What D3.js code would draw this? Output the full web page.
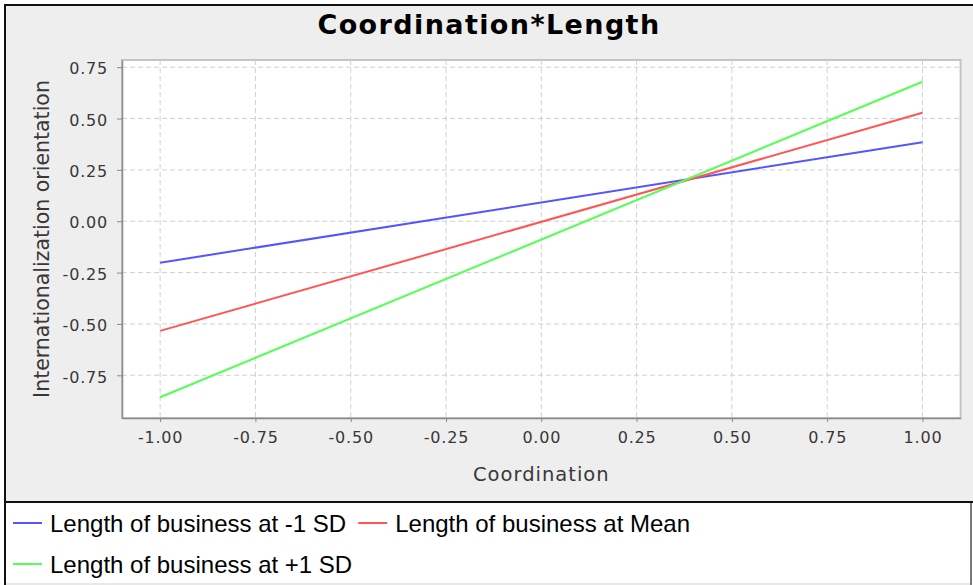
<!DOCTYPE html>
<html>
<head>
<meta charset="utf-8">
<script src="https://cdn.jsdelivr.net/npm/d3@7"></script>
<style>
    body { margin: 0; background: #ffffff; }
    text { font-family: "DejaVu Sans", sans-serif; }
</style>
</head>
<body>
<div class="svg-container"></div>
<script>

/*** The data ***/

const xValues = [-1, 1]
const seriesNames = ['Length of business at -1 SD', 'Length of business at Mean', 'Length of business at +1 SD']
const lowSD = [-0.202, 0.385]
const meanSD = [-0.534, 0.528]
const highSD = [-0.857, 0.679]
const seriesColors = ['#5555ff', '#ff5555', '#55ff55']

const xTicks = [-1, -0.75, -0.5, -0.25, 0, 0.25, 0.5, 0.75, 1]
const yTicks = [-0.75, -0.5, -0.25, 0, 0.25, 0.5, 0.75]

const series = [lowSD, meanSD, highSD].map((vals, i) => ({
    name: seriesNames[i],
    color: seriesColors[i],
    points: vals.map((v, j) => ({x: xValues[j], y: v}))
}))

const svgWidth = 973
const svgHeight = 585

const plotLeft = 122
const plotRight = 960.6
const plotTop = 60
const plotBottom = 418

const legendTop = 502

// plain hyphen for negatives, like the original
const fmt = (d) => d3.format(".2f")(d).replace("−", "-")

let svg = d3.select('.svg-container')
    .append("svg")
    .attr("width", svgWidth)
    .attr("height", svgHeight)

/* chart panel background */

svg.append("rect")
    .attr("x", 5)
    .attr("y", 5)
    .attr("width", svgWidth - 5)
    .attr("height", legendTop - 5)
    .attr("fill", "#eeeeee")

/* Scales */

let xScale = d3.scaleLinear()
    .domain([-1.1, 1.1])
    .range([plotLeft, plotRight])

let yScale = d3.scaleLinear()
    .domain([-0.958, 0.785])
    .range([plotBottom, plotTop])

/* plot area */

svg.append("rect")
    .attr("x", plotLeft)
    .attr("y", plotTop)
    .attr("width", plotRight - plotLeft)
    .attr("height", plotBottom - plotTop)
    .attr("fill", "white")
    .attr("stroke", "#c4c4c4")
    .attr("stroke-width", 2)

// grid lines
svg.append("g")
    .selectAll("line")
    .data(xTicks)
    .enter()
    .append("line")
    .attr("x1", d => xScale(d))
    .attr("x2", d => xScale(d))
    .attr("y1", plotTop)
    .attr("y2", plotBottom)
    .attr("stroke", "#d0d0d0")
    .attr("stroke-dasharray", "5,3")

svg.append("g")
    .selectAll("line")
    .data(yTicks)
    .enter()
    .append("line")
    .attr("x1", plotLeft)
    .attr("x2", plotRight)
    .attr("y1", d => yScale(d))
    .attr("y2", d => yScale(d))
    .attr("stroke", "#d0d0d0")
    .attr("stroke-dasharray", "5,3")

/* Axes */

let bottomAxis = d3.axisBottom(xScale)
    .tickValues(xTicks)
    .tickFormat(fmt)
    .tickSize(4)
    .tickSizeOuter(0)
    .tickPadding(10)

let xAxis = svg.append("g")
    .attr("transform", `translate(0, ${plotBottom})`)
    .call(bottomAxis)

let leftAxis = d3.axisLeft(yScale)
    .tickValues(yTicks)
    .tickFormat(fmt)
    .tickSize(5)
    .tickSizeOuter(0)
    .tickPadding(9)

let yAxis = svg.append("g")
    .attr("transform", `translate(${plotLeft}, 0)`)
    .call(leftAxis)

for (let ax of [xAxis, yAxis]) {
    ax.select("path")
        .style("stroke", "#8a8a8a")
        .style("stroke-width", 1.5)
    ax.selectAll("line")
        .style("stroke", "#8a8a8a")
    ax.selectAll("text")
        .attr("fill", "#383838")
        .style("font-family", "DejaVu Sans")
        .style("font-size", "16px")
        .style("letter-spacing", "0.8px")
}

yAxis.selectAll("text").attr("dy", "0.42em")

/* the lines */

let line = d3.line()
    .x(d => xScale(d.x))
    .y(d => yScale(d.y))

svg.append("g")
    .selectAll("path")
    .data(series)
    .enter()
    .append("path")
    .attr("d", d => line(d.points))
    .attr("fill", "none")
    .attr("stroke", d => d.color)
    .attr("stroke-width", 2)

/* titles */

svg.append("text")
    .attr("x", 489)
    .attr("y", 34)
    .style("text-anchor", "middle")
    .style("font-weight", "bold")
    .style("font-size", "27px")
    .style("letter-spacing", "1.4px")
    .attr("fill", "black")
    .text("Coordination*Length")

svg.append("text")
    .attr("x", (plotLeft + plotRight) / 2)
    .attr("y", 481)
    .style("text-anchor", "middle")
    .style("font-size", "19.5px")
    .style("letter-spacing", "1px")
    .attr("fill", "#383838")
    .text("Coordination")

svg.append("text")
    .attr("transform", `translate(49, ${(plotTop + plotBottom) / 2}) rotate(-90)`)
    .style("text-anchor", "middle")
    .style("font-size", "20.5px")
    .attr("fill", "#383838")
    .text("Internationalization orientation")

/* legend */

svg.append("rect")
    .attr("x", 5)
    .attr("y", legendTop)
    .attr("width", 966)
    .attr("height", svgHeight - legendTop - 1)
    .attr("fill", "white")
    .attr("stroke", "#d0d0d0")

svg.append("line")
    .attr("x1", 971).attr("x2", 971)
    .attr("y1", legendTop).attr("y2", svgHeight)
    .attr("stroke", "#555555")
    .attr("stroke-width", 1.5)

svg.append("line")
    .attr("x1", 4).attr("x2", svgWidth)
    .attr("y1", legendTop).attr("y2", legendTop)
    .attr("stroke", "#111111")
    .attr("stroke-width", 2)

let legend = svg.append("g")

let lx = 13
let row = 0
series.forEach((s) => {
    let item = legend.append("g")
    let label = item.append("text")
        .attr("x", 37)
        .attr("y", 9)
        .style("font-family", "Liberation Sans, Arial, sans-serif")
        .style("font-size", "24px")
        .attr("fill", "black")
        .text(s.name)
    let w = 37 + label.node().getComputedTextLength()
    if (lx + w > 960) {
        lx = 13
        row += 1
    }
    item.attr("transform", `translate(${lx}, ${523 + row * 41})`)
    item.append("line")
        .attr("x1", 0)
        .attr("x2", 29)
        .attr("stroke", s.color)
        .attr("stroke-width", 2)
    lx += w + 12
})

/* outer frame */

svg.append("line")
    .attr("x1", 4).attr("x2", svgWidth)
    .attr("y1", 5).attr("y2", 5)
    .attr("stroke", "#111111")
    .attr("stroke-width", 2)

svg.append("line")
    .attr("x1", 5).attr("x2", 5)
    .attr("y1", 4).attr("y2", svgHeight)
    .attr("stroke", "#111111")
    .attr("stroke-width", 2)

</script>
</body>
</html>
